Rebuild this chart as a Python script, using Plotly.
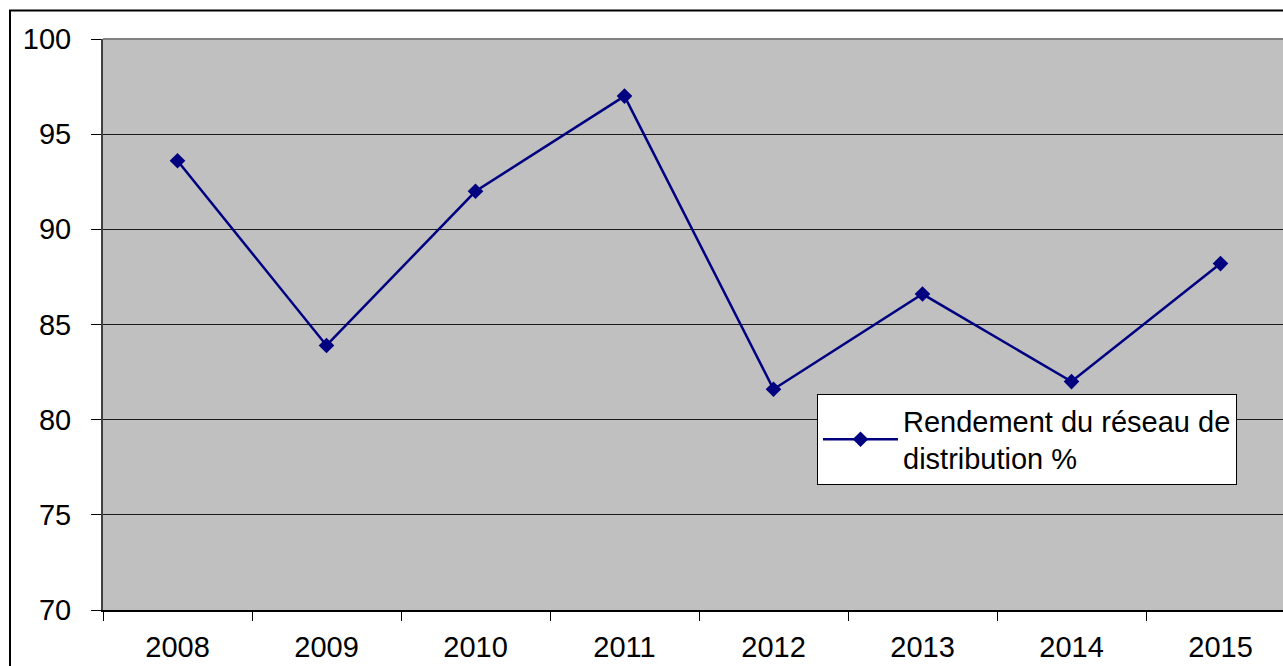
import plotly.graph_objects as go

years = ["2008", "2009", "2010", "2011", "2012", "2013", "2014", "2015"]
rendement = [93.6, 83.9, 92.0, 97.0, 81.6, 86.6, 82.0, 88.2]
series_name = "Rendement du réseau de<br>distribution %"
y_ticks = [70, 75, 80, 85, 90, 95, 100]

W, H = 1283, 666
L, R, T, B = 103, 0, 39, 56
pw = W - L - R
ph = H - T - B
cat_px = 149.0

fig = go.Figure()
fig.add_trace(go.Scatter(
    x=years, y=rendement, mode="lines+markers", name=series_name,
    line=dict(color="#000080", width=2.5),
    marker=dict(symbol="diamond", size=12, color="#000080"),
    showlegend=True,
))

font = dict(family="Liberation Sans, Arial, sans-serif", size=29, color="#000000")

def px_x(x):
    return (x - L) / pw

def px_y(y):
    return (H - B - y) / ph

fig.update_layout(
    width=W, height=H,
    margin=dict(l=L, r=R, t=T, b=B, pad=0),
    paper_bgcolor="#FFFFFF",
    plot_bgcolor="#C0C0C0",
    font=font,
    showlegend=True,
    legend=dict(
        x=px_x(817), y=px_y(394), xanchor="left", yanchor="top",
        bgcolor="#FFFFFF", bordercolor="#000000", borderwidth=1,
        font=font, itemwidth=75,
    ),
    xaxis=dict(
        type="category", range=[-0.5, -0.5 + pw / cat_px],
        tickson="boundaries", ticks="outside", ticklen=9, tickwidth=1,
        tickcolor="#000000", showgrid=False, showline=True,
        linecolor="#000000", linewidth=2, zeroline=False,
        ticklabelstandoff=10,
    ),
    yaxis=dict(
        range=[70, 100], tickvals=y_ticks, ticks="outside", ticklen=10,
        tickwidth=1, tickcolor="#000000", showgrid=True,
        gridcolor="#1a1a1a", gridwidth=1.2, showline=True,
        linecolor="#404040", linewidth=2, zeroline=False,
        ticklabelstandoff=14,
    ),
    shapes=[
        dict(type="line", xref="paper", yref="paper", x0=0, x1=1, y0=1, y1=1,
             line=dict(color="#808080", width=2), layer="above"),
        dict(type="rect", xref="paper", yref="paper",
             x0=px_x(10), x1=1.05, y0=px_y(10.5), y1=-0.3,
             line=dict(color="#000000", width=2), fillcolor="rgba(0,0,0,0)",
             layer="above"),
    ],
)

fig.write_html(
    "out.html",
    config={"displayModeBar": False},
    post_script="document.body.style.margin='0';document.body.style.overflow='hidden';",
)
